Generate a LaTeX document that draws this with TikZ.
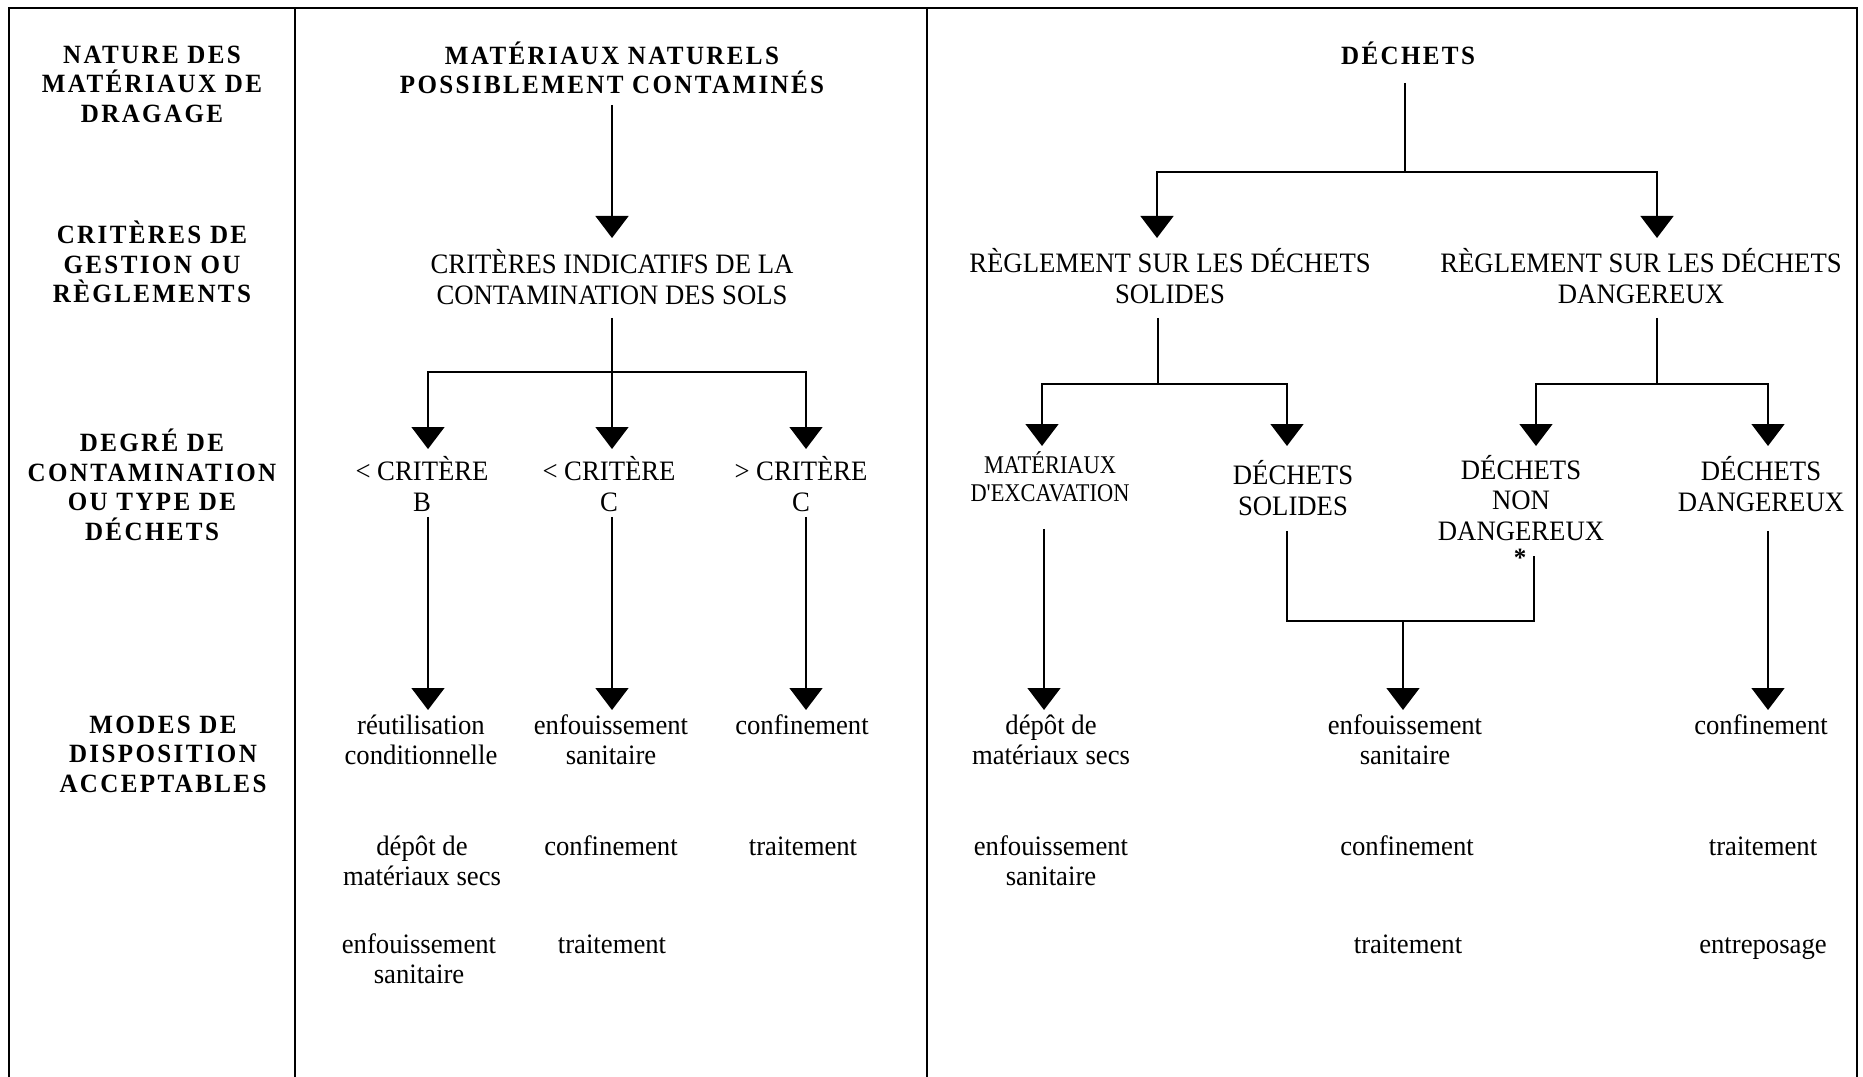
\documentclass[tikz,border=0pt]{standalone}
\usepackage{fontspec}
\setmainfont{Liberation Serif}[FakeStretch=0.95]
\newfontfamily\hdfont{Liberation Serif}[FakeStretch=0.95,LetterSpace=9]
\newfontfamily\smfont{Liberation Serif}[FakeStretch=0.88]
\usetikzlibrary{arrows.meta}
\begin{document}
\begin{tikzpicture}[x=0.02cm,y=-0.02cm,
  txt/.style={align=center, inner sep=0pt, font=\fontsize{16}{17.3}\selectfont},
  hd/.style={align=center, inner sep=0pt, font=\hdfont\bfseries\fontsize{15}{16.8}\selectfont},
  sm/.style={align=center, inner sep=0pt, font=\smfont\fontsize{14.5}{16}\selectfont},
  ln/.style={line width=0.8pt},
  arr/.style={line width=0.8pt,-{Triangle[width=0.66cm,length=0.44cm]}},
  frameline/.style={line width=1.4pt}]
\useasboundingbox (0,0) rectangle (1863,1077);
% frame
\draw[frameline] (9,1077) -- (9,8) -- (1857,8) -- (1857,1077);
\draw[frameline] (295,8) -- (295,1077);
\draw[frameline] (927,8) -- (927,1077);
% left headings
\node[hd] (h1) at (152,84) {NATURE DES\\MATÉRIAUX DE\\DRAGAGE};
\node[hd] (h2) at (152,262) {CRITÈRES DE\\GESTION OU\\RÈGLEMENTS};
\node[hd] (h3) at (152,485) {DEGRÉ DE\\CONTAMINATION\\OU TYPE DE\\DÉCHETS};
\node[hd] (h4) at (163,754) {MODES DE\\DISPOSITION\\ACCEPTABLES};
% middle column
\node[hd] (tm) at (612,68) {MATÉRIAUX NATURELS\\POSSIBLEMENT CONTAMINÉS};
\node[txt] (ci) at (612,277) {CRITÈRES INDICATIFS DE LA\\CONTAMINATION DES SOLS};
\node[txt] (cb) at (422,484) {< CRITÈRE\\B};
\node[txt] (cc) at (609,484) {< CRITÈRE\\C};
\node[txt] (cx) at (801,484) {> CRITÈRE\\C};
\node[txt] (m11) at (421,740) {réutilisation\\conditionnelle};
\node[txt] (m12) at (611,740) {enfouissement\\sanitaire};
\node[txt] (m13) at (802,725) {confinement};
\node[txt] (m21) at (422,861) {dépôt de\\matériaux secs};
\node[txt] (m22) at (611,846) {confinement};
\node[txt] (m23) at (803,846) {traitement};
\node[txt] (m31) at (419,959) {enfouissement\\sanitaire};
\node[txt] (m32) at (612,944) {traitement};
% right column
\node[hd] (td) at (1408,53) {DÉCHETS};
\node[txt] (rs) at (1170,276) {RÈGLEMENT SUR LES DÉCHETS\\SOLIDES};
\node[txt] (rd) at (1641,276) {RÈGLEMENT SUR LES DÉCHETS\\DANGEREUX};
\node[sm] (me) at (1050,477) {MATÉRIAUX\\D'EXCAVATION};
\node[txt] (ds) at (1293,488) {DÉCHETS\\SOLIDES};
\node[txt] (dn) at (1521,498) {DÉCHETS\\NON\\DANGEREUX};
\node[inner sep=0pt, font=\bfseries\fontsize{15}{15}\selectfont] (star) at (1520,558) {*};
\node[txt] (dd) at (1761,484) {DÉCHETS\\DANGEREUX};
\node[txt] (r11) at (1051,740) {dépôt de\\matériaux secs};
\node[txt] (r12) at (1405,740) {enfouissement\\sanitaire};
\node[txt] (r13) at (1761,725) {confinement};
\node[txt] (r21) at (1051,861) {enfouissement\\sanitaire};
\node[txt] (r22) at (1407,846) {confinement};
\node[txt] (r23) at (1763,846) {traitement};
\node[txt] (r32) at (1408,944) {traitement};
\node[txt] (r33) at (1763,949) {entreposage};
% connector coordinates (middle)
\coordinate (tmS) at (612,105);
\coordinate (ciN) at (612,238);
\coordinate (ciS) at (612,318);
\coordinate (jm) at (612,372);
\coordinate (cbN) at (428,449);
\coordinate (ccN) at (612,449);
\coordinate (cxN) at (806,449);
\coordinate (cbS) at (428,517);
\coordinate (ccS) at (612,517);
\coordinate (cxS) at (806,517);
\coordinate (m11N) at (428,710);
\coordinate (m12N) at (612,710);
\coordinate (m13N) at (806,710);
\draw[arr] (tmS) -- (ciN);
\draw[arr] (ciS) -- (ccN);
\draw[arr] (jm) -| (cbN);
\draw[arr] (jm) -| (cxN);
\draw[arr] (cbS) -- (m11N);
\draw[arr] (ccS) -- (m12N);
\draw[arr] (cxS) -- (m13N);
% connector coordinates (right)
\coordinate (tdS) at (1405,83);
\coordinate (jd) at (1405,172);
\coordinate (rsN) at (1157,238);
\coordinate (rdN) at (1657,238);
\coordinate (rsS) at (1158,318);
\coordinate (js) at (1158,384);
\coordinate (meN) at (1042,446);
\coordinate (dsN) at (1287,446);
\coordinate (rdS) at (1657,318);
\coordinate (jg) at (1657,384);
\coordinate (dnN) at (1536,446);
\coordinate (ddN) at (1768,446);
\coordinate (meS) at (1044,529);
\coordinate (r11N) at (1044,710);
\coordinate (dsS) at (1287,531);
\coordinate (dnS) at (1534,556);
\coordinate (jb) at (1403,621);
\coordinate (r12N) at (1403,710);
\coordinate (ddS) at (1768,531);
\coordinate (r13N) at (1768,710);
\draw[ln] (tdS) -- (jd);
\draw[arr] (jd) -| (rsN);
\draw[arr] (jd) -| (rdN);
\draw[ln] (rsS) -- (js);
\draw[arr] (js) -| (meN);
\draw[arr] (js) -| (dsN);
\draw[ln] (rdS) -- (jg);
\draw[arr] (jg) -| (dnN);
\draw[arr] (jg) -| (ddN);
\draw[arr] (meS) -- (r11N);
\draw[ln] (dsS) |- (jb) -| (dnS);
\draw[arr] (jb) -- (r12N);
\draw[arr] (ddS) -- (r13N);
\end{tikzpicture}
\end{document}
